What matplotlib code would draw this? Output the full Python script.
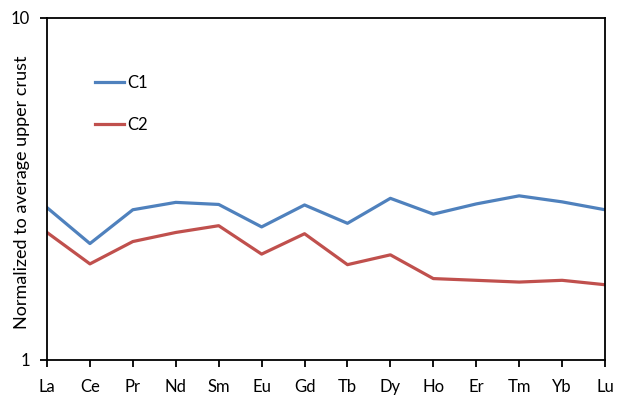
import matplotlib
matplotlib.use("Agg")
import matplotlib.pyplot as plt
from matplotlib.ticker import FixedLocator, NullLocator, FixedFormatter

plt.rcParams['font.family'] = ['Lato', 'DejaVu Sans']

elements = ["La", "Ce", "Pr", "Nd", "Sm", "Eu", "Gd", "Tb", "Dy", "Ho", "Er", "Tm", "Yb", "Lu"]
c1 = [2.79, 2.19, 2.75, 2.89, 2.85, 2.45, 2.84, 2.51, 2.97, 2.67, 2.86, 3.02, 2.90, 2.75]
c2 = [2.36, 1.91, 2.22, 2.36, 2.47, 2.04, 2.34, 1.90, 2.03, 1.73, 1.71, 1.69, 1.71, 1.66]
series_names = ["C1", "C2"]
y_ticks = [1, 10]

fig = plt.figure(figsize=(6.17, 3.95), dpi=100)
ax = fig.add_axes([47/617, 35/395, (605-47)/617, (360-18)/395])

x = list(range(len(elements)))
ax.plot(x, c1, color="#4F81BD", lw=2.3, label=series_names[0])
ax.plot(x, c2, color="#C0504D", lw=2.3, label=series_names[1])

ax.set_yscale("log")
ax.set_ylim(1, 10)
ax.set_xlim(0, len(elements) - 1)
ax.yaxis.set_major_locator(FixedLocator(y_ticks))
ax.yaxis.set_major_formatter(FixedFormatter([str(v) for v in y_ticks]))
ax.yaxis.set_minor_locator(NullLocator())
ax.set_xticks(x)
ax.set_xticklabels(elements)

for s in ax.spines.values():
    s.set_color("black")
    s.set_linewidth(1.3)

ax.tick_params(axis="both", direction="out", length=5, width=1.3, labelsize=12, colors="black")
ax.tick_params(axis="x", pad=9)
ax.tick_params(axis="y", pad=7)

ax.set_ylabel("Normalized to average upper crust", fontsize=13)
ax.yaxis.set_label_coords(-17/558, 0.49)

ax.legend(frameon=False, loc="upper left", bbox_to_anchor=(48/558, (360-75)/342),
          fontsize=12, handlelength=1.75, handletextpad=0.2, labelspacing=1.55,
          borderpad=0, borderaxespad=0)

fig.savefig("out.png", dpi=100)
